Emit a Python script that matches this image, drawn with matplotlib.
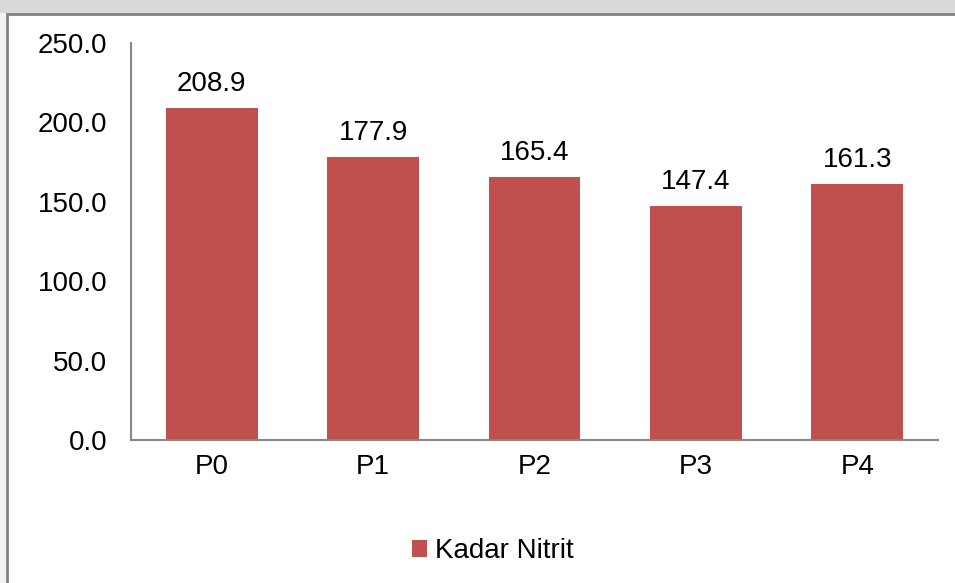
import matplotlib
matplotlib.use('Agg')
import matplotlib.pyplot as plt
from matplotlib.patches import Rectangle

plt.rcParams['font.family'] = ['Liberation Sans', 'DejaVu Sans']

categories = ["P0", "P1", "P2", "P3", "P4"]
kadar_nitrit = [208.9, 177.9, 165.4, 147.4, 161.3]
y_ticks = [0, 50, 100, 150, 200, 250]

W, H = 955, 583
fs = 20
fig = plt.figure(figsize=(W / 100, H / 100), dpi=100)
fig.patch.set_facecolor('#f2f2f2')

# background strip and chart frame
fig.patches.append(Rectangle((0, 1 - 13 / H), 1, 13 / H, transform=fig.transFigure,
                             facecolor='#d9d9d9', edgecolor='none', zorder=-2))
fig.patches.append(Rectangle((7 / W, -0.01), 1.0, 1 - 14 / H + 0.01, transform=fig.transFigure,
                             facecolor='white', edgecolor='#808080', linewidth=2, zorder=-1))

ax = fig.add_axes([131 / W, 1 - 440 / H, (938 - 131) / W, (440 - 43) / H])
ax.set_zorder(2)
ax.set_facecolor('none')

bars = ax.bar(categories, kadar_nitrit, width=0.57, color='#c0504d', label='Kadar Nitrit')
for b, v in zip(bars, kadar_nitrit):
    ax.annotate(f"{v:.1f}", (b.get_x() + b.get_width() / 2, v), xytext=(0, 8),
                textcoords='offset points', ha='center', va='bottom', fontsize=fs)

ax.set_ylim(0, 250)
ax.set_xlim(-0.5, 4.5)
ax.set_yticks(y_ticks)
ax.set_yticklabels([f"{t:.1f}" for t in y_ticks])
ax.tick_params(axis='both', length=0, labelsize=fs)
ax.tick_params(axis='y', pad=17)
ax.tick_params(axis='x', pad=10)

for s in ['top', 'right']:
    ax.spines[s].set_visible(False)
for s in ['left', 'bottom']:
    ax.spines[s].set_color('#868686')
    ax.spines[s].set_linewidth(1.5)

leg = fig.legend(handles=[bars], labels=['Kadar Nitrit'], loc='center', bbox_to_anchor=(493 / W, 1 - 551 / H),
                 frameon=False, fontsize=fs, handlelength=0.55, handleheight=0.55, handletextpad=0.3)
leg.set_zorder(3)

fig.savefig('out.png', dpi=100)
